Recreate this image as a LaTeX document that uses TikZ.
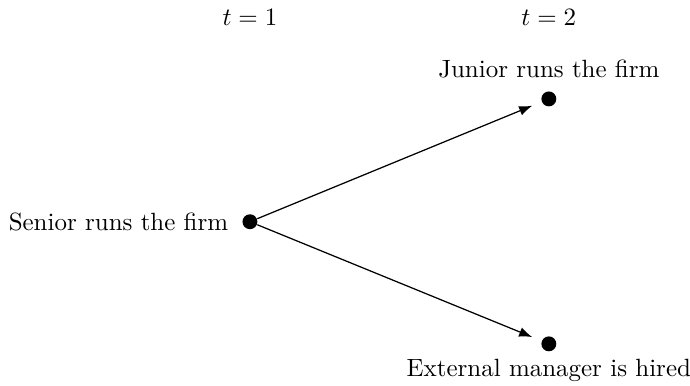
\documentclass[tikz,border=0pt]{standalone}
\usetikzlibrary{arrows.meta,positioning}
\tikzset{
    % Decision points
    decision/.style={
        circle,
        fill=black,
        inner sep=0pt,
        minimum size=0.21cm
    },
    % Arrows
    arrow/.style={
        -Latex,
        line width=0.5pt,
        shorten >=4pt
    },
    % Labels
    timelabel/.style={
        font=\normalsize
    },
    outcome/.style={
        font=\normalsize
    }
}
\begin{document}
\begin{tikzpicture}
    \useasboundingbox (0,0) rectangle (9.718,5.423);

    % Time labels
    \node[timelabel] (t1) at (3.52,5.17) {$t=1$};
    \node[timelabel] (t2) at (7.73,5.17) {$t=2$};

    % Decision points
    \node[decision] (senior) at (3.52,2.30) {};
    \node[decision] (junior) at (7.73,4.03) {};
    \node[decision] (external) at (7.73,0.58) {};

    % Outcomes
    \node[outcome, left=0.07cm of senior] (seniorlab) {Senior runs the firm};
    \node[outcome, above=0.06cm of junior] (juniorlab) {Junior runs the firm};
    \node[outcome, below=-0.02cm of external] (externallab) {External manager is hired};

    % Arrows
    \draw[arrow] (senior) -- (junior);
    \draw[arrow] (senior) -- (external);

\end{tikzpicture}
\end{document}
